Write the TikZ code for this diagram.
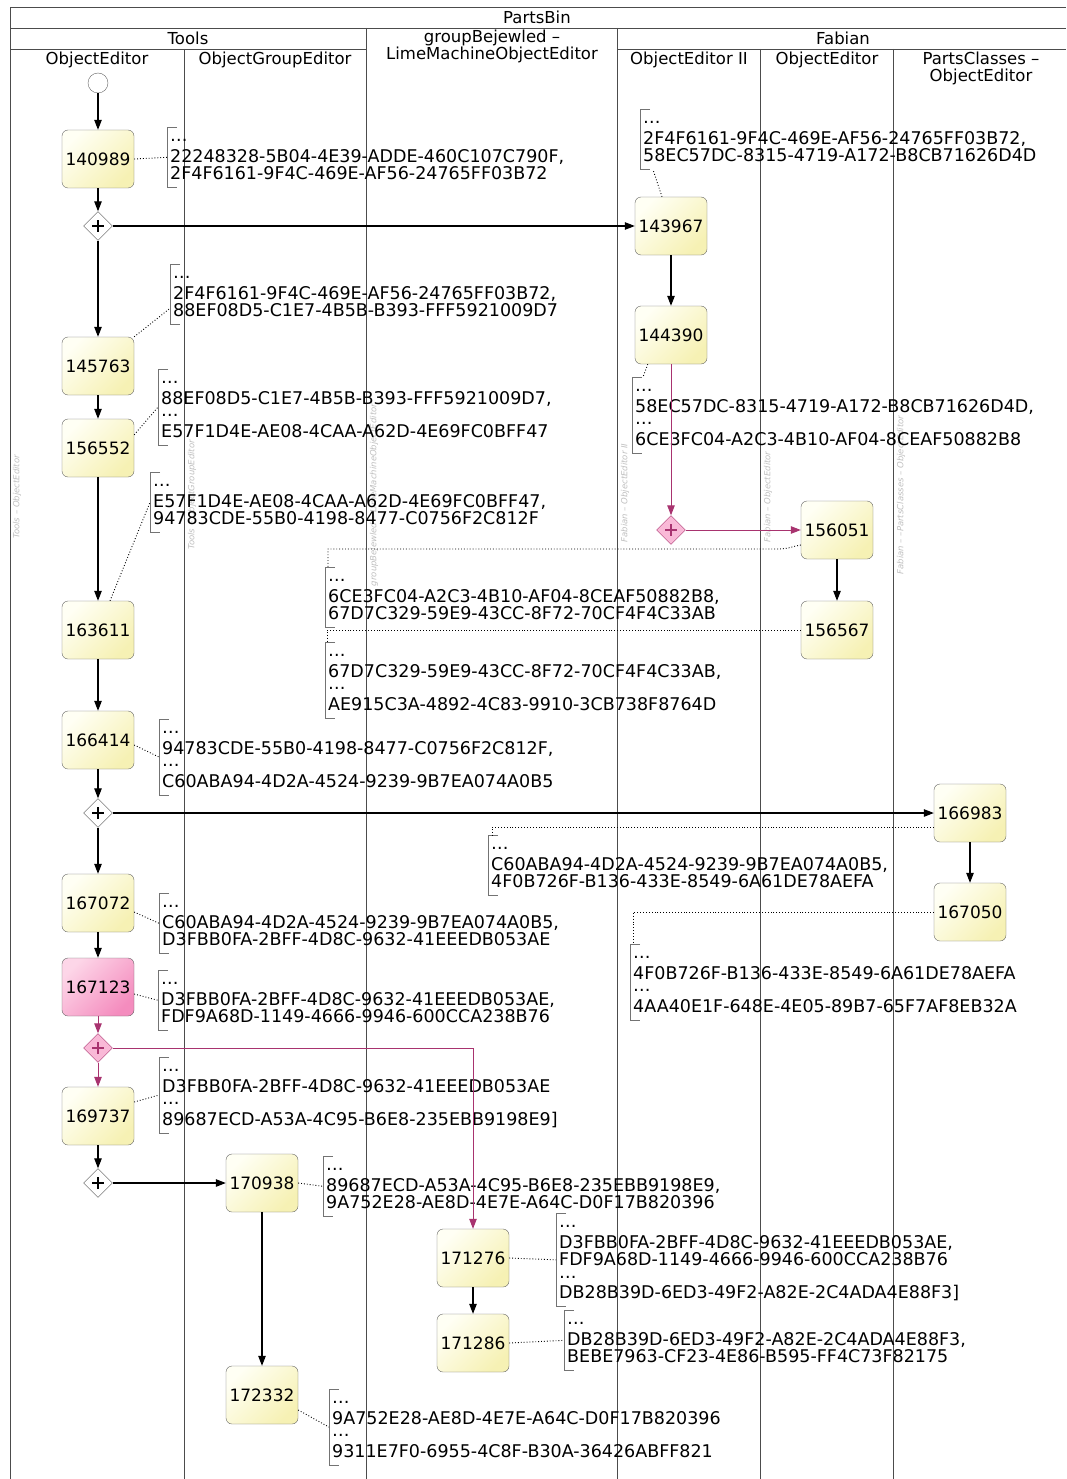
\documentclass[tikz,border=0pt]{standalone}
\usepackage{fontspec}
\setmainfont{DejaVu Sans}
\usetikzlibrary{arrows.meta, shapes.geometric}

\definecolor{taskA}{HTML}{FFFFF4}
\definecolor{taskB}{HTML}{F6F1B4}
\definecolor{pinkA}{HTML}{FDD6E8}
\definecolor{pinkB}{HTML}{F48CBE}
\definecolor{gatepink}{HTML}{F9B9D7}
\definecolor{pinkline}{HTML}{A8336F}

\newcommand{\etc}{\rule{0pt}{12pt}\ldots\\[3pt]}
\newcommand{\back}{\\[-5pt]}

\tikzset{
  lane/.style={draw=black!70, line width=0.7pt},
  task/.style={draw=black!60, rounded corners=6pt, minimum width=72pt, minimum height=58pt,
    inner sep=0pt, font=\fontsize{17}{17}\selectfont, top color=taskA, bottom color=taskB, shading angle=45},
  ptask/.style={task, top color=pinkA, bottom color=pinkB, shading angle=45},
  startev/.style={circle, draw=black!60, fill=white, minimum size=20pt, inner sep=0pt},
  gate/.style={diamond, aspect=1, minimum width=29pt, minimum height=29pt, inner sep=0pt,
    draw=black!70, fill=white, path picture={
      \draw[line width=1.4pt, #1]
        ([xshift=-6pt]path picture bounding box.center) -- ([xshift=6pt]path picture bounding box.center)
        ([yshift=-6pt]path picture bounding box.center) -- ([yshift=6pt]path picture bounding box.center);}},
  gate/.default=black,
  pgate/.style={gate=pinkline, draw=pinkline, fill=gatepink},
  flow/.style={draw=black, line width=1.1pt, -{Triangle[length=10pt,width=7.5pt]}},
  pflow/.style={flow, draw=pinkline, line width=1pt},
  link/.style={dotted, line width=0.9pt},
  note/.style={anchor=north west, align=left, inner xsep=3pt, inner ysep=2.5pt,
    font=\fontsize{17.5}{17.5}\selectfont},
  brk/.style={draw=black!55, line width=0.8pt},
  lanetag/.style={rotate=90, text=black!25, font=\fontsize{8.5}{9}\selectfont\itshape}
}

\begin{document}
\begin{tikzpicture}[x=1pt, y=-1pt, font=\fontsize{16.5}{17}\selectfont]
\useasboundingbox (0,0) rectangle (1066,1479);

% pool and lanes
\draw[lane] (10,1479) -- (10,7) -- (1066,7);
\draw[lane] (10,28) -- (1066,28);
\draw[lane] (10,49) -- (366,49) (617,49) -- (1066,49);
\foreach \x/\y in {184/49, 366/28, 617/28, 760/49, 893/49}
  \draw[lane] (\x,\y) -- (\x,1479);

\node (pool) at (537,17) {PartsBin};
\node (tools) at (188,38) {Tools};
\node[align=center] (group) at (492,46.5) {groupBejewled –\\LimeMachineObjectEditor};
\node (fabian) at (843,38) {Fabian};
\node (laneA) at (97,60) {ObjectEditor};
\node (laneB) at (275,60) {ObjectGroupEditor};
\node (laneD) at (689,60) {ObjectEditor II};
\node (laneE) at (827,60) {ObjectEditor};
\node[align=center] (laneF) at (981,68.5) {PartsClasses –\\ObjectEditor};

\node[lanetag] (tagA) at (17,497) {Tools – ObjectEditor};
\node[lanetag] (tagB) at (192,495) {Tools – ObjectGroupEditor};
\node[lanetag] (tagC) at (374,495) {groupBejewled – LimeMachineObjectEditor};
\node[lanetag] (tagD) at (625,493) {Fabian – ObjectEditor II};
\node[lanetag] (tagE) at (768,497) {Fabian – ObjectEditor};
\node[lanetag] (tagF) at (901,495) {Fabian – –PartsClasses – ObjectEditor};

% annotations
\node[note] (n1) at (167,127) {\etc 22248328-5B04-4E39-ADDE-460C107C790F,\\2F4F6161-9F4C-469E-AF56-24765FF03B72\strut};
\node[note] (n2) at (170,264) {\etc 2F4F6161-9F4C-469E-AF56-24765FF03B72,\\88EF08D5-C1E7-4B5B-B393-FFF5921009D7\strut};
\node[note] (n3) at (158,369) {\etc 88EF08D5-C1E7-4B5B-B393-FFF5921009D7,\back\etc E57F1D4E-AE08-4CAA-A62D-4E69FC0BFF47\strut};
\node[note] (n4) at (150,472) {\etc E57F1D4E-AE08-4CAA-A62D-4E69FC0BFF47,\\94783CDE-55B0-4198-8477-C0756F2C812F\strut};
\node[note] (n5) at (325,567) {\etc 6CE3FC04-A2C3-4B10-AF04-8CEAF50882B8,\\67D7C329-59E9-43CC-8F72-70CF4F4C33AB\strut};
\node[note] (n6) at (325,642) {\etc 67D7C329-59E9-43CC-8F72-70CF4F4C33AB,\back\etc AE915C3A-4892-4C83-9910-3CB738F8764D\strut};
\node[note] (n7) at (640,109) {\etc 2F4F6161-9F4C-469E-AF56-24765FF03B72,\\58EC57DC-8315-4719-A172-B8CB71626D4D\strut};
\node[note] (n8) at (632,377) {\etc 58EC57DC-8315-4719-A172-B8CB71626D4D,\back\etc 6CE3FC04-A2C3-4B10-AF04-8CEAF50882B8\strut};
\node[note] (n9) at (159,719) {\etc 94783CDE-55B0-4198-8477-C0756F2C812F,\back\etc C60ABA94-4D2A-4524-9239-9B7EA074A0B5\strut};
\node[note] (n10) at (488,835) {\etc C60ABA94-4D2A-4524-9239-9B7EA074A0B5,\\4F0B726F-B136-433E-8549-6A61DE78AEFA\strut};
\node[note] (n11) at (159,893) {\etc C60ABA94-4D2A-4524-9239-9B7EA074A0B5,\\D3FBB0FA-2BFF-4D8C-9632-41EEEDB053AE\strut};
\node[note] (n12) at (630,944) {\etc 4F0B726F-B136-433E-8549-6A61DE78AEFA\back\etc 4AA40E1F-648E-4E05-89B7-65F7AF8EB32A\strut};
\node[note] (n13) at (158,970) {\etc D3FBB0FA-2BFF-4D8C-9632-41EEEDB053AE,\\FDF9A68D-1149-4666-9946-600CCA238B76\strut};
\node[note] (n14) at (159,1057) {\etc D3FBB0FA-2BFF-4D8C-9632-41EEEDB053AE\back\etc 89687ECD-A53A-4C95-B6E8-235EBB9198E9]\strut};
\node[note] (n15) at (323,1156) {\etc 89687ECD-A53A-4C95-B6E8-235EBB9198E9,\\9A752E28-AE8D-4E7E-A64C-D0F17B820396\strut};
\node[note] (n16) at (556,1213) {\etc D3FBB0FA-2BFF-4D8C-9632-41EEEDB053AE,\\FDF9A68D-1149-4666-9946-600CCA238B76\back\etc DB28B39D-6ED3-49F2-A82E-2C4ADA4E88F3]\strut};
\node[note] (n17) at (564,1310) {\etc DB28B39D-6ED3-49F2-A82E-2C4ADA4E88F3,\\BEBE7963-CF23-4E86-B595-FF4C73F82175\strut};
\node[note] (n18) at (329,1389) {\etc 9A752E28-AE8D-4E7E-A64C-D0F17B820396\back\etc 9311E7F0-6955-4C8F-B30A-36426ABFF821\strut};
\foreach \i in {1,...,18}
  \draw[brk] ([xshift=10pt]n\i.north west) -- (n\i.north west) -- (n\i.south west) -- ([xshift=10pt]n\i.south west);

% Tools - ObjectEditor
\node[startev] (start) at (98,83) {};
\node[task] (t140989) at (98,159) {140989};
\node[gate] (g1) at (98,226) {};
\node[task] (t145763) at (98,366) {145763};
\node[task] (t156552) at (98,448) {156552};
\node[task] (t163611) at (98,630) {163611};
\node[task] (t166414) at (98,740) {166414};
\node[gate] (g2) at (98,813) {};
\node[task] (t167072) at (98,903) {167072};
\node[ptask] (t167123) at (98,987) {167123};
\node[pgate] (g3) at (98,1048) {};
\node[task] (t169737) at (98,1116) {169737};
\node[gate] (g4) at (98,1183) {};
% Tools - ObjectGroupEditor
\node[task] (t170938) at (262,1183) {170938};
\node[task] (t172332) at (262,1395) {172332};
% groupBejewled
\node[task] (t171276) at (473,1258) {171276};
\node[task] (t171286) at (473,1343) {171286};
% Fabian
\node[task] (t143967) at (671,226) {143967};
\node[task] (t144390) at (671,335) {144390};
\node[pgate] (g5) at (671,530) {};
\node[task] (t156051) at (837,530) {156051};
\node[task] (t156567) at (837,630) {156567};
\node[task] (t166983) at (970,813) {166983};
\node[task] (t167050) at (970,912) {167050};

% sequence flows
\draw[flow] (start) -- (t140989);
\draw[flow] (t140989) -- (g1);
\draw[flow] (g1) -- (t143967);
\draw[flow] (g1) -- (t145763);
\draw[flow] (t143967) -- (t144390);
\draw[pflow] (t144390) -- (g5);
\draw[pflow] (g5) -- (t156051);
\draw[flow] (t156051) -- (t156567);
\draw[flow] (t145763) -- (t156552);
\draw[flow] (t156552) -- (t163611);
\draw[flow] (t163611) -- (t166414);
\draw[flow] (t166414) -- (g2);
\draw[flow] (g2) -- (t166983);
\draw[flow] (g2) -- (t167072);
\draw[flow] (t166983) -- (t167050);
\draw[flow] (t167072) -- (t167123);
\draw[pflow] (t167123) -- (g3);
\draw[pflow] (g3) -- (t169737);
\draw[pflow] (g3) -| (t171276);
\draw[flow] (t169737) -- (g4);
\draw[flow] (g4) -- (t170938);
\draw[flow] (t170938) -- (t172332);
\draw[flow] (t171276) -- (t171286);

% associations
\draw[link] (t140989.east) -- (n1.west);
\draw[link] (t145763.north east) -- ([yshift=-14pt]n2.west);
\draw[link] ([yshift=-16pt]t156552.north east) -- (n3.west);
\draw[link] ([xshift=12pt]t163611.north) -- (n4.west);
\draw[link] ([yshift=-15pt]t156051.west) to[out=190, in=0] ([xshift=-22pt, yshift=-19pt]t156051.west) -| ([xshift=3pt]n5.north west);
\draw[link] (t156567.west) -| ([xshift=2pt]n6.north west);
\draw[link] ([xshift=-9pt]t143967.north) -- ([xshift=13pt]n7.south west);
\draw[link] ([xshift=13pt]t144390.south west) -- ([xshift=11pt]n8.north west);
\draw[link] ([yshift=-5pt]t166414.east) -- (n9.west);
\draw[link] ([yshift=-14pt]t166983.west) -| ([xshift=4pt]n10.north west);
\draw[link] ([yshift=-9pt]t167072.east) -- (n11.west);
\draw[link] (t167050.west) -| ([xshift=3pt]n12.north west);
\draw[link] ([yshift=-7pt]t167123.east) -- (n13.west);
\draw[link] ([yshift=14pt]t169737.east) -- (n14.west);
\draw[link] (t170938.east) -- (n15.west);
\draw[link] (t171276.east) -- (n16.west);
\draw[link] (t171286.east) -- (n17.west);
\draw[link] ([yshift=-15pt]t172332.east) -- (n18.west);
\end{tikzpicture}
\end{document}
